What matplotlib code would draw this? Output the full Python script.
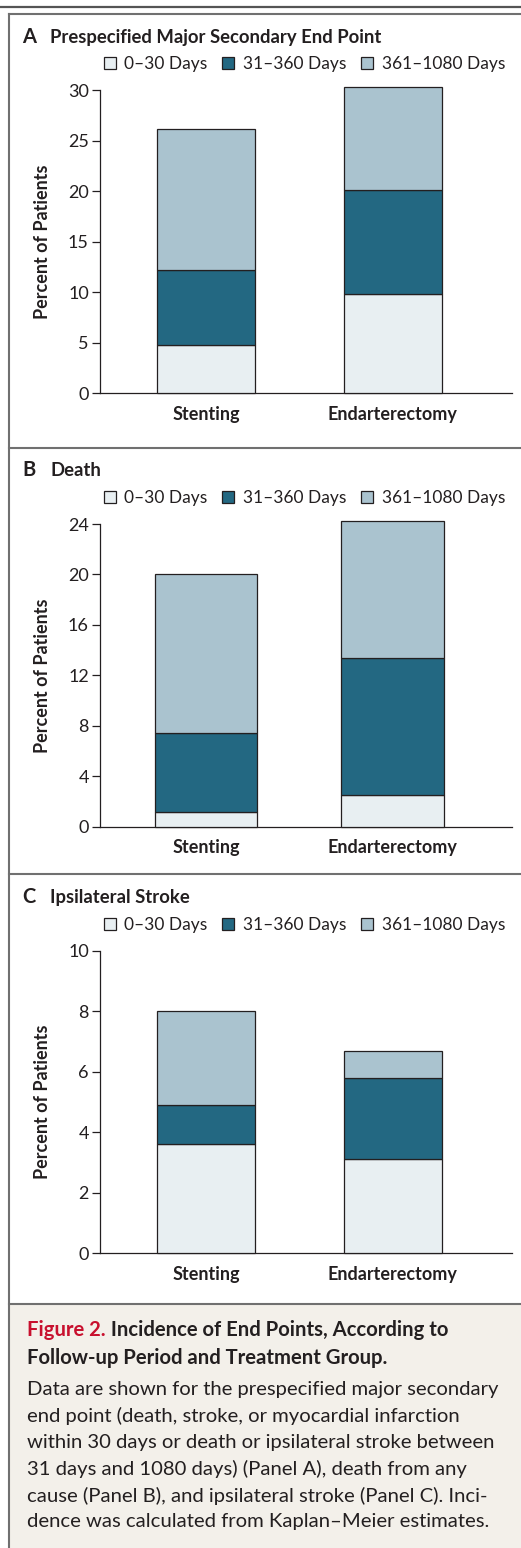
import numpy as np
import matplotlib.pyplot as plt
from matplotlib.patches import Patch, Rectangle
from matplotlib.lines import Line2D

plt.rcParams['font.family'] = ['Lato', 'DejaVu Sans']

W, H = 521, 1548

groups = ["Stenting", "Endarterectomy"]
periods = ["0\u201330 Days", "31\u2013360 Days", "361\u20131080 Days"]
colors = ["#e8eff2", "#236882", "#aac3cf"]

letters = ["A", "B", "C"]
titles = ["Prespecified Major Secondary End Point", "Death", "Ipsilateral Stroke"]

# percent of patients in each period, [stenting, endarterectomy]
a_vals = [[4.8, 9.8], [7.4, 10.3], [14.0, 10.2]]
b_vals = [[1.2, 2.5], [6.2, 10.9], [12.6, 10.8]]
c_vals = [[3.6, 3.1], [1.3, 2.7], [3.1, 0.9]]
a_ticks = [0, 5, 10, 15, 20, 25, 30]
b_ticks = [0, 4, 8, 12, 16, 20, 24]
c_ticks = [0, 2, 4, 6, 8, 10]

caption_head = ["Figure 2.", " Incidence of End Points, According to",
                "Follow-up Period and Treatment Group."]
caption_body = [
    "Data are shown for the prespecified major secondary",
    "end point (death, stroke, or myocardial infarction",
    "within 30 days or death or ipsilateral stroke between",
    "31 days and 1080 days) (Panel A), death from any",
    "cause (Panel B), and ipsilateral stroke (Panel C). Inci-",
    "dence was calculated from Kaplan\u2013Meier estimates.",
]

# pixel layout: title y, legend y, axes top, axes bottom, bar width
layout = [
    (37, 64, 90.3, 393.3, 0.525),
    (470, 498, 524, 826.7, 0.55),
    (897, 925, 950.7, 1253.3, 0.525),
]

ink = "#231f20"
rule = "#707070"


def fx(x):
    return x / W


def fy(y):
    return 1 - y / H


fig = plt.figure(figsize=(W / 100, H / 100), dpi=100)

# frame rules
fig.add_artist(Line2D([0, 1], [fy(6.5), fy(6.5)], color="#555555", lw=1.6, transform=fig.transFigure))
fig.add_artist(Line2D([fx(9), 1], [fy(13.5), fy(13.5)], color=rule, lw=1.5, transform=fig.transFigure))
fig.add_artist(Line2D([fx(9), fx(9)], [fy(13.5), 0], color=rule, lw=1.5, transform=fig.transFigure))
for sep in [447.7, 874.3, 1304]:
    fig.add_artist(Line2D([fx(9), 1], [fy(sep), fy(sep)], color=rule, lw=1.5, transform=fig.transFigure))

fig.add_artist(Rectangle((fx(10), 0), 1, fy(1305), facecolor="#f3f0ea", edgecolor="none",
                         transform=fig.transFigure, zorder=-1))

panels = zip(letters, titles, [a_vals, b_vals, c_vals], [a_ticks, b_ticks, c_ticks], layout)
for letter, title, vals, ticks, (ty, ly, top, bot, bw) in panels:
    ax = fig.add_axes([fx(100), fy(bot), fx(512) - fx(100), (bot - top) / H])
    x = np.arange(len(groups))
    bottom = np.zeros(len(groups))
    for v, c in zip(vals, colors):
        ax.bar(x, v, bw, bottom=bottom, color=c, edgecolor=ink, linewidth=0.9, zorder=3,
               clip_on=False)
        bottom += np.array(v)
    ax.set_xlim(-0.567, 1.64)
    ax.set_ylim(0, ticks[-1])
    ax.set_yticks(ticks)
    ax.set_xticks(x)
    ax.set_xticklabels(groups, fontweight="bold", fontsize=13, color=ink)
    ax.tick_params(axis="x", length=0, pad=9)
    ax.tick_params(axis="y", length=6, width=0.9, pad=2, labelsize=13, colors=ink)
    for s in ["top", "right"]:
        ax.spines[s].set_visible(False)
    for s in ["left", "bottom"]:
        ax.spines[s].set_color(ink)
        ax.spines[s].set_linewidth(0.9)
    ax.set_ylabel("Percent of Patients", fontweight="bold", fontsize=13, color=ink, va="center")
    ax.yaxis.set_label_coords((43 - 100) / 412, 0.5)

    fig.text(fx(22), fy(ty), letter, fontsize=14.5, fontweight="bold", color=ink, va="center")
    fig.text(fx(50), fy(ty), title, fontsize=13.3, fontweight="bold", color=ink, va="center")

    handles = [Patch(facecolor=c, edgecolor=ink, linewidth=0.9) for c in colors]
    fig.legend(handles, periods, loc="center left", bbox_to_anchor=(fx(103.5), fy(ly)),
               ncol=3, frameon=False, fontsize=12.5, handlelength=0.7, handleheight=0.7,
               handletextpad=0.5, columnspacing=0.85, borderpad=0, borderaxespad=0,
               labelcolor=ink)

# caption
t1 = fig.text(fx(27), fy(1330), caption_head[0], fontsize=14.6, fontweight="bold",
              color="#c8102e", va="center")
fig.canvas.draw()
bb = t1.get_window_extent()
fig.text(bb.x1 / W, fy(1330), caption_head[1], fontsize=14.6, fontweight="bold", color=ink, va="center")
fig.text(fx(27), fy(1358), caption_head[2], fontsize=14.6, fontweight="bold", color=ink, va="center")
for i, line in enumerate(caption_body):
    fig.text(fx(27), fy(1390 + i * 26.4), line, fontsize=14.6, color=ink, va="center")

fig.savefig("out.png", dpi=100)
